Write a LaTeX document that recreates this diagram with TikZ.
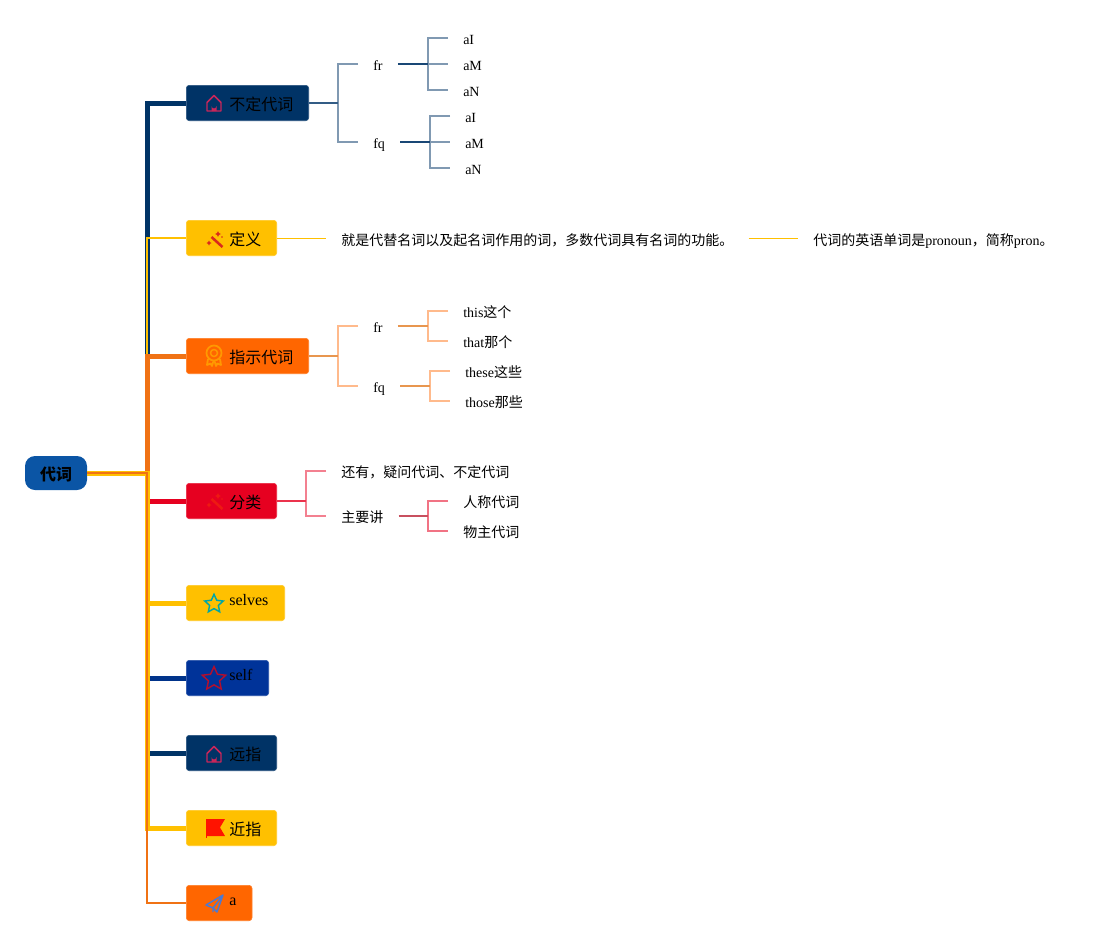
\documentclass[tikz,border=0pt]{standalone}
\usepackage{fontspec}
\setmainfont{Liberation Serif}
\newfontfamily\cjk{Noto Sans CJK SC}
\usetikzlibrary{shapes.geometric}
\definecolor{navy}{HTML}{003366}
\definecolor{royal}{HTML}{003399}
\definecolor{amber}{HTML}{FFC000}
\definecolor{tangerine}{HTML}{FF6600}
\definecolor{rust}{HTML}{F07214}
\definecolor{scarlet}{HTML}{E60020}
\definecolor{rootblue}{HTML}{0B55A5}
\definecolor{crimson}{HTML}{C8265A}
\definecolor{clay}{HTML}{E8964F}
\definecolor{rosewood}{HTML}{C8505F}
\definecolor{wandred}{HTML}{D92A1C}
\definecolor{wandfaint}{HTML}{EE1A12}
\begin{document}
\begin{tikzpicture}[x=0.75pt,y=-0.75pt]
\tikzset{topic/.style 2 args={anchor=west,rectangle,rounded corners=2.25pt,fill=#1,draw=#1!85!white,line width=0.5pt,inner sep=0pt,
    minimum height=26.5pt,text width=#2,align=left,text height=13pt,text depth=2.5pt,font=\fontsize{12}{14}\selectfont,
    execute at begin node={\hspace*{32.25pt}}}}
\tikzset{leaf/.style={anchor=west,inner xsep=11.25pt,inner ysep=0pt,text height=11.5pt,text depth=1.5pt,font=\fontsize{10.5}{12}\selectfont}}
\tikzset{trunk/.style={line width=3.75pt}}
\tikzset{stem/.style={line width=1.5pt}}
\tikzset{twig/.style={line width=1.1pt}}
\tikzset{staricon/.style={star,star points=5,star point ratio=2.1,inner sep=0pt,line width=1.1pt}}
\tikzset{homeicon/.pic={
  \draw[line width=1.1pt,line join=round] (-7,8) -- (-7,-0.5) -- (0,-7.5) -- (7,-0.5) -- (7,8) -- cycle;
  \fill (-2.5,8) -- (-2.5,3) arc[start angle=180,end angle=0,radius=2.5] -- (2.5,8) -- cycle;}}
\tikzset{wandicon/.pic={
  \draw[line width=1.9pt] (-2.5,-2) -- (8.5,8);
  \fill (4,-8) -- (4.9,-6) -- (7,-5) -- (4.9,-4) -- (4,-2) -- (3.1,-4) -- (1,-5) -- (3.1,-6) -- cycle;
  \fill (-5,1.5) -- (-4.1,3.1) -- (-2.5,4) -- (-4.1,4.9) -- (-5,6.5) -- (-5.9,4.9) -- (-7.5,4) -- (-5.9,3.1) -- cycle;
  \fill (8,-2) circle[radius=0.9];}}
\tikzset{medalicon/.pic={
  \draw[line width=1.3pt] (0,-3) circle[radius=7.5];
  \draw[line width=1.1pt] (0,-3) circle[radius=3.5];
  \draw[line width=1.3pt,line join=round] (-6,3) -- (-7,9) -- (-3.5,7.5) -- (-2,10) -- (-0.5,5) (6,3) -- (7,9) -- (3.5,7.5) -- (2,10) -- (0.5,5);}}
\tikzset{flagicon/.pic={
  \fill (-9,-9) -- (10,-9) -- (5,-0.5) -- (10,8) -- (-9,8) -- cycle;
  \draw[line width=0.8pt] (-8.6,-9) -- (-8.6,10);}}
\tikzset{planeicon/.pic={
  \draw[line width=1.1pt,line join=round] (9,-8) -- (-8,2) -- (-1,5) -- (9,-8) -- (3,9) -- (-1,5) -- (-1,9);}}
\useasboundingbox (0,0) rectangle (1114,946);
% root and first level
\node [rectangle,rounded corners=7.5pt,fill=rootblue,minimum width=46.5pt,minimum height=25.5pt,inner sep=0pt,text height=12pt,text depth=1.5pt,font=\fontsize{12}{14}\selectfont\bfseries] (root) at (56,473) {\cjk 代词};
\coordinate (hub) at (147,473);
\node [topic={navy}{91.75pt}] (buding) at (186,103) {\cjk 不定代词};
\node [topic={amber}{67.75pt}] (dingyi) at (186,238) {\cjk 定义};
\node [topic={tangerine}{91.75pt}] (zhishi) at (186,356) {\cjk 指示代词};
\node [topic={scarlet}{67.75pt}] (fenlei) at (186,501) {\cjk 分类};
\node [topic={amber}{73.75pt}] (selves) at (186,603) {\raisebox{3.75pt}{selves}};
\node [topic={royal}{61.75pt}] (self) at (186,678) {\raisebox{3.75pt}{self}};
\node [topic={navy}{67.75pt}] (yuan) at (186,753) {\cjk 远指};
\node [topic={amber}{67.75pt}] (jin) at (186,828) {\cjk 近指};
\node [topic={tangerine}{49.25pt}] (art) at (186,903) {\raisebox{3.75pt}{a}};
% trunk
\draw[-,trunk,navy] (root.east) -| (hub |- buding.west) -- (buding.west);
\draw[-,stem,amber] (root.east) -| (hub |- dingyi.west) -- (dingyi.west);
\draw[-,trunk,scarlet] (root.east) -| (hub |- fenlei.west) -- (fenlei.west);
\draw[-,trunk,rust] (root.east) -| (hub |- zhishi.west) -- (zhishi.west);
\draw[-,trunk,navy] (root.east) -| (hub |- yuan.west) -- (yuan.west);
\draw[-,trunk,royal!70!navy] (root.east) -| (hub |- self.west) -- (self.west);
\draw[-,trunk,amber] (root.east) -| (hub |- selves.west) -- (selves.west);
\draw[-,trunk,amber] (root.east) -| (hub |- jin.west) -- (jin.west);
\draw[-,stem,rust] (root.east) -| (hub |- art.west) -- (art.west);
% icons
\pic[color=crimson] at (214,103) {homeicon};
\pic[color=wandred] at (214,239) {wandicon};
\pic[color=orange!80!yellow] at (214,356) {medalicon};
\pic[color=wandfaint] at (214,501) {wandicon};
\node [staricon,draw=teal!70!cyan,minimum size=14.5pt] (staramber) at (214,604) {};
\node [staricon,draw=red!70!royal,minimum size=18.5pt] (starblue) at (214,679) {};
\pic[color=crimson] at (214,754) {homeicon};
\pic[color=red!85!orange] at (215,828) {flagicon};
\pic[color=teal!50!blue!70!white] at (214,903) {planeicon};
% indefinite pronouns
\coordinate (bj) at (338,103);
\node [leaf] (bfr) at (358,64) {fr};
\node [leaf] (bfq) at (358,142) {fq};
\node [leaf] (bfr1) at (448,38) {aI};
\node [leaf] (bfr2) at (448,64) {aM};
\node [leaf] (bfr3) at (448,90) {aN};
\node [leaf] (bfq1) at (450,116) {aI};
\node [leaf] (bfq2) at (450,142) {aM};
\node [leaf] (bfq3) at (450,168) {aN};
\coordinate (bfrj) at (428,64);
\coordinate (bfqj) at (430,142);
\draw[-,twig,navy!50!white] (bfr.west) -| (bj) |- (bfq.west);
\draw[-,stem,navy!80!white] (buding.east) to (bj);
\draw[-,twig,navy!50!white] (bfr1.west) -| (bfrj) |- (bfr3.west);
\draw[-,twig,navy!50!white] (bfrj) to (bfr2.west);
\draw[-,stem,navy!90!white] (bfr.east) to (bfrj);
\draw[-,twig,navy!50!white] (bfq1.west) -| (bfqj) |- (bfq3.west);
\draw[-,twig,navy!50!white] (bfqj) to (bfq2.west);
\draw[-,stem,navy!90!white] (bfq.east) to (bfqj);
% definition
\node [leaf,text height=13pt] (def1) at (326,238) {\cjk 就是代替名词以及起名词作用的词，多数代词具有名词的功能。};
\node [leaf,text height=13pt] (def2) at (798,238) {{\cjk 代词的英语单词是}pronoun{\cjk ，简称}pron{\cjk 。}};
\draw[-,line width=0.75pt,amber] (dingyi.east) to (def1.west);
\draw[-,line width=0.75pt,amber] (def1.east) to (def2.west);
% demonstrative pronouns
\coordinate (zj) at (338,356);
\node [leaf] (zfr) at (358,326) {fr};
\node [leaf] (zfq) at (358,386) {fq};
\node [leaf] (zfr1) at (448,311) {this{\cjk 这个}};
\node [leaf] (zfr2) at (448,341) {that{\cjk 那个}};
\node [leaf] (zfq1) at (450,371) {these{\cjk 这些}};
\node [leaf] (zfq2) at (450,401) {those{\cjk 那些}};
\coordinate (zfrj) at (428,326);
\coordinate (zfqj) at (430,386);
\draw[-,twig,tangerine!45!white] (zfr.west) -| (zj) |- (zfq.west);
\draw[-,stem,clay] (zhishi.east) to (zj);
\draw[-,twig,tangerine!45!white] (zfr1.west) -| (zfrj) |- (zfr2.west);
\draw[-,stem,clay] (zfr.east) to (zfrj);
\draw[-,twig,tangerine!45!white] (zfq1.west) -| (zfqj) |- (zfq2.west);
\draw[-,stem,clay] (zfq.east) to (zfqj);
% classification
\coordinate (fj) at (306,501);
\node [leaf] (fen1) at (326,471) {\cjk 还有，疑问代词、不定代词};
\node [leaf] (fen2) at (326,516) {\cjk 主要讲};
\node [leaf] (fen3) at (448,501) {\cjk 人称代词};
\node [leaf] (fen4) at (448,531) {\cjk 物主代词};
\coordinate (fen2j) at (428,516);
\draw[-,twig,scarlet!50!white] (fen1.west) -| (fj) |- (fen2.west);
\draw[-,stem,scarlet!80!white] (fenlei.east) to (fj);
\draw[-,twig,scarlet!55!white] (fen3.west) -| (fen2j) |- (fen4.west);
\draw[-,stem,rosewood] (fen2.east) to (fen2j);
\end{tikzpicture}
\end{document}
